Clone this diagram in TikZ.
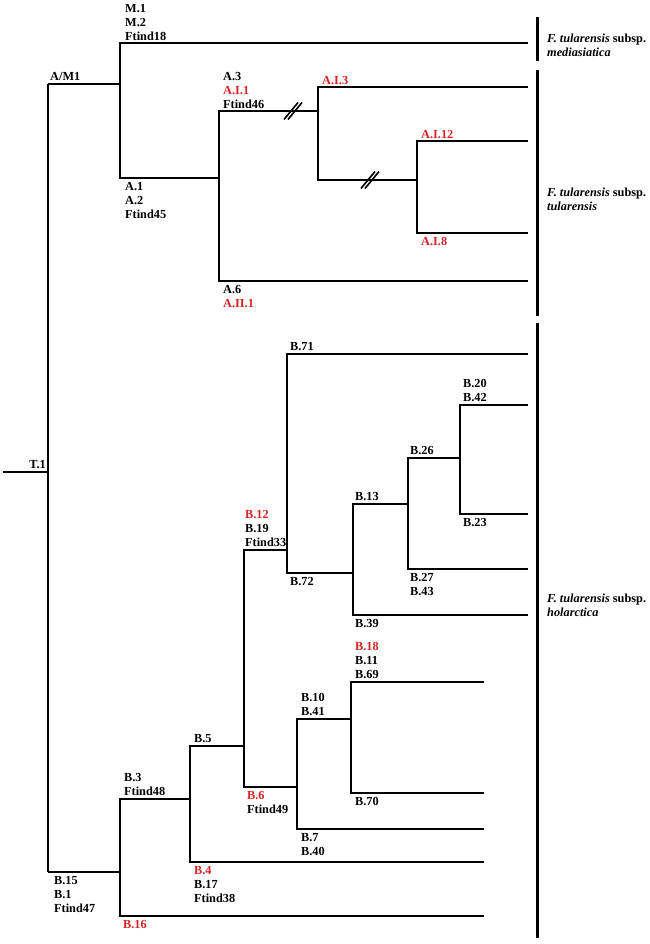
\documentclass[tikz,border=0pt]{standalone}
\usepackage{fontspec}
\setmainfont{Liberation Serif}
\definecolor{tred}{RGB}{215,35,35}
\tikzset{
  tree/.style={line width=1.8pt, line join=miter},
  bar/.style={line width=3pt},
  lab/.style={font=\fontsize{12.3}{14}\selectfont\bfseries, inner sep=0pt, align=left},
  up/.style={lab, anchor=south west},
  dn/.style={lab, anchor=north west},
  sp/.style={lab, anchor=south west},
  brk/.style={line width=1.6pt}
}
\newcommand{\rd}[1]{\textcolor{tred}{#1}}
\begin{document}
\begin{tikzpicture}[x=1pt,y=-1pt]
\useasboundingbox (0,0) rectangle (649,944);
% ---- coordinates
\coordinate (t0) at (3,472);
\coordinate (T) at (48,472);
\coordinate (AMt) at (48,84);
\coordinate (BBt) at (48,872);
\coordinate (AM) at (120,84);
\coordinate (Mt) at (120,43);   \coordinate (Me) at (528,43);
\coordinate (A1t) at (120,178); \coordinate (A1) at (219,178);
\coordinate (A3t) at (219,111); \coordinate (A3) at (318,111);
\coordinate (AI3t) at (318,87); \coordinate (AI3e) at (528,87);
\coordinate (AIxt) at (318,180); \coordinate (AIx) at (417,180);
\coordinate (AI12t) at (417,141); \coordinate (AI12e) at (528,141);
\coordinate (AI8t) at (417,233); \coordinate (AI8e) at (528,233);
\coordinate (A6t) at (219,281); \coordinate (A6e) at (528,281);
\coordinate (B15) at (120,872);
\coordinate (B3t) at (120,799); \coordinate (B3) at (190,799);
\coordinate (B16t) at (120,916); \coordinate (B16e) at (484,916);
\coordinate (B5t) at (190,746); \coordinate (B5) at (244,746);
\coordinate (B4t) at (190,862); \coordinate (B4e) at (484,862);
\coordinate (B12t) at (244,550); \coordinate (B12) at (287,550);
\coordinate (B6t) at (244,787); \coordinate (B6) at (297,787);
\coordinate (B71t) at (287,354); \coordinate (B71e) at (528,354);
\coordinate (B72t) at (287,573); \coordinate (B72) at (353,573);
\coordinate (B13t) at (353,504); \coordinate (B13) at (408,504);
\coordinate (B39t) at (353,615); \coordinate (B39e) at (528,615);
\coordinate (B26t) at (408,458); \coordinate (B26) at (460,458);
\coordinate (B27t) at (408,569); \coordinate (B27e) at (528,569);
\coordinate (B20t) at (460,405); \coordinate (B20e) at (528,405);
\coordinate (B23t) at (460,514); \coordinate (B23e) at (528,514);
\coordinate (B10t) at (297,719); \coordinate (B10) at (351,719);
\coordinate (B7t) at (297,829); \coordinate (B7e) at (484,829);
\coordinate (B18t) at (351,682); \coordinate (B18e) at (484,682);
\coordinate (B70t) at (351,793); \coordinate (B70e) at (484,793);
% ---- tree
\draw[tree] (t0) -- (T);
\draw[tree] (AMt) -- (BBt);
\draw[tree] (AMt) -- (AM);
\draw[tree] (Me) -- (Mt) -- (A1t) -- (A1);
\draw[tree] (A3) -- (A3t) -- (A6t) -- (A6e);
\draw[tree] (AI3e) -- (AI3t) -- (AIxt) -- (AIx);
\draw[tree] (AI12e) -- (AI12t) -- (AI8t) -- (AI8e);
\draw[tree] (BBt) -- (B15);
\draw[tree] (B3) -- (B3t) -- (B16t) -- (B16e);
\draw[tree] (B5) -- (B5t) -- (B4t) -- (B4e);
\draw[tree] (B12) -- (B12t) -- (B6t) -- (B6);
\draw[tree] (B71e) -- (B71t) -- (B72t) -- (B72);
\draw[tree] (B13) -- (B13t) -- (B39t) -- (B39e);
\draw[tree] (B26) -- (B26t) -- (B27t) -- (B27e);
\draw[tree] (B20e) -- (B20t) -- (B23t) -- (B23e);
\draw[tree] (B10) -- (B10t) -- (B7t) -- (B7e);
\draw[tree] (B18e) -- (B18t) -- (B70t) -- (B70e);
% ---- break marks
\foreach \cx/\cy in {293/111, 370/180}{
  \draw[brk] (\cx-9,\cy+8.5) -- (\cx+5,\cy-8.5);
  \draw[brk] (\cx-5,\cy+8.5) -- (\cx+9,\cy-8.5);
}
% ---- bars
\coordinate (b1t) at (537,17);  \coordinate (b1b) at (537,61);
\coordinate (b2t) at (537,70);  \coordinate (b2b) at (537,316);
\coordinate (b3t) at (537,323); \coordinate (b3b) at (537,938);
\draw[bar] (b1t) -- (b1b);
\draw[bar] (b2t) -- (b2b);
\draw[bar] (b3t) -- (b3b);
% ---- species labels
\node[sp] (s1) at (547,57) {\textit{F. tularensis} subsp.\\\textit{mediasiatica}};
\node[sp] (s2) at (547,211) {\textit{F. tularensis} subsp.\\\textit{tularensis}};
\node[sp] (s3) at (547,617) {\textit{F. tularensis} subsp.\\\textit{holarctica}};
% ---- branch labels
\node[lab, anchor=south east] (lT1) at (46,469) {T.1};
\node[up] (lAM) at (50,81) {A/M1};
\node[up] (lM) at (125,40.5) {M.1\\M.2\\Ftind18};
\node[dn] (lA1) at (125,182.5) {A.1\\A.2\\Ftind45};
\node[up] (lA3) at (223,108.5) {A.3\\\rd{A.I.1}\\Ftind46};
\node[up] (lAI3) at (322,84.5) {\rd{A.I.3}};
\node[up] (lAI12) at (421,138.5) {\rd{A.I.12}};
\node[dn] (lAI8) at (421,237.5) {\rd{A.I.8}};
\node[dn] (lA6) at (223,285.5) {A.6\\\rd{A.II.1}};
\node[up] (lB71) at (290,351) {B.71};
\node[up] (lB12) at (245,547) {\rd{B.12}\\B.19\\Ftind33};
\node[dn] (lB72) at (290,577.5) {B.72};
\node[up] (lB13) at (355,501) {B.13};
\node[dn] (lB39) at (355,619.5) {B.39};
\node[up] (lB26) at (410,455) {B.26};
\node[dn] (lB27) at (410,573.5) {B.27\\B.43};
\node[up] (lB20) at (463,402) {B.20\\B.42};
\node[dn] (lB23) at (463,518.5) {B.23};
\node[up] (lB18) at (355,679) {\rd{B.18}\\B.11\\B.69};
\node[up] (lB10) at (301,716) {B.10\\B.41};
\node[dn] (lB70) at (355,797.5) {B.70};
\node[dn] (lB7) at (301,833.5) {B.7\\B.40};
\node[dn] (lB6) at (247,791.5) {\rd{B.6}\\Ftind49};
\node[up] (lB5) at (194,743) {B.5};
\node[up] (lB3) at (124,796) {B.3\\Ftind48};
\node[dn] (lB4) at (194,866.5) {\rd{B.4}\\B.17\\Ftind38};
\node[dn] (lB15) at (54,876.5) {B.15\\B.1\\Ftind47};
\node[dn] (lB16) at (123,920.5) {\rd{B.16}};
\end{tikzpicture}
\end{document}
